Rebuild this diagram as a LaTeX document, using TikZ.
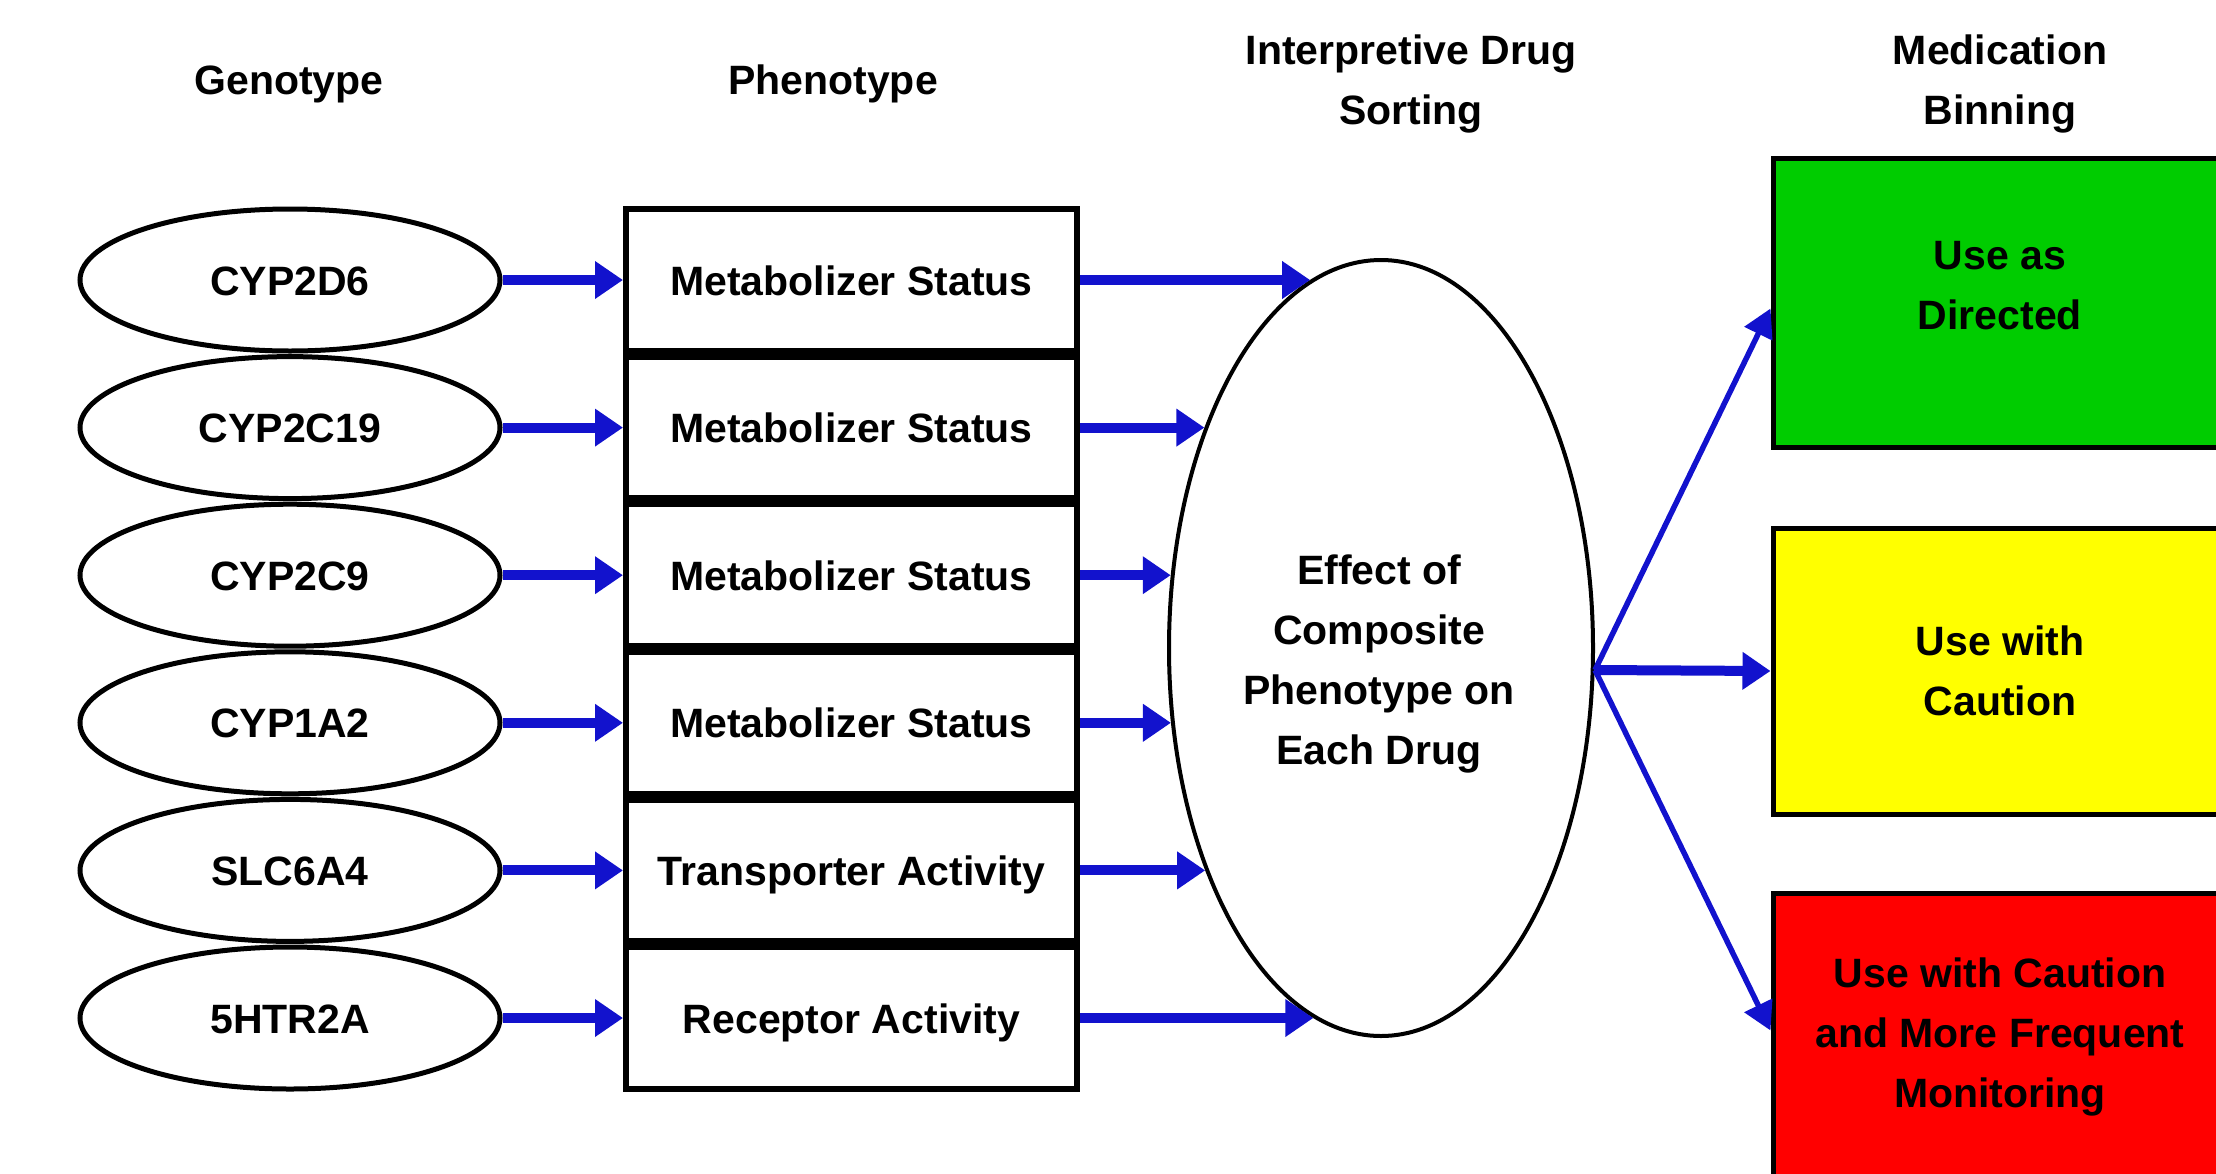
\documentclass[tikz,border=0pt]{standalone}
\usepackage{fontspec}
\setmainfont{Liberation Sans}
\usetikzlibrary{arrows.meta,shapes.geometric}
\definecolor{arrblue}{RGB}{18,18,205}
\definecolor{bingreen}{RGB}{0,204,0}
\definecolor{binyellow}{RGB}{255,255,0}
\definecolor{binred}{RGB}{255,0,0}
\begin{document}
\begin{tikzpicture}[x=1pt,y=-1pt,
  every node/.style={font=\fontsize{41}{60}\selectfont\bfseries},
  geno/.style={ellipse,draw,line width=5pt,minimum width=420pt,minimum height=142pt,inner sep=0pt,text height=30pt,text depth=0pt},
  pheno/.style={rectangle,draw,line width=6pt,minimum width=451pt,minimum height=141.6pt,inner sep=0pt,text height=30pt,text depth=0pt},
  hdr/.style={align=center,inner sep=0pt},
  arr/.style={draw=arrblue,line width=10pt,-{Triangle[length=28pt,width=36pt]}},
  darr/.style={draw=arrblue,line width=5.5pt,-{Triangle[length=28pt,width=30pt]}},
  bin/.style={rectangle,draw,line width=5pt,align=center,inner sep=0pt,minimum width=454pt}]
\useasboundingbox (0,0) rectangle (2216,1173);
% headers
\node[hdr] (h1) at (289,84) {Genotype};
\node[hdr] (h2) at (833,84) {Phenotype};
\node[hdr] (h3) at (1411,84) {Interpretive Drug\\Sorting};
\node[hdr] (h4) at (2000,84) {Medication\\Binning};
% central ellipse
\node[ellipse,draw,line width=4pt,minimum width=424pt,minimum height=776pt,inner sep=0pt] (c) at (1381,648) {};
\node[hdr] (ct) at (1379,664) {Effect of\\Composite\\Phenotype on\\Each Drug};
% bins
\node[bin,fill=bingreen,minimum height=289pt] (b1) at (2000,302.5) {};
\node[hdr] (b1t) at (2000,286) {Use as\\Directed};
\node[bin,fill=binyellow,minimum height=286pt] (b2) at (2000,671) {Use with\\Caution};
\node[bin,fill=binred,minimum height=287pt] (b3) at (2000,1036.5) {Use with Caution\\and More Frequent\\Monitoring};
% rows
\foreach \g/\p [count=\i] in {CYP2D6/Metabolizer Status,CYP2C19/Metabolizer Status,CYP2C9/Metabolizer Status,CYP1A2/Metabolizer Status,SLC6A4/Transporter Activity,5HTR2A/Receptor Activity}{
  \pgfmathsetmacro{\yy}{280+147.6*(\i-1)}
  \pgfmathsetmacro{\xx}{1381-214*sqrt(1-((\yy-648)/390)^2)}
  \node[geno] (g\i) at (290,\yy) {\g};
  \node[pheno] (p\i) at (851.5,\yy) {\p};
  \coordinate (e\i) at (\xx,\yy);
  \draw[arr] (g\i) -- (p\i);
  \draw[arr] (p\i.east) -- (e\i);
}
% outputs
\draw[darr] ([yshift=-22pt]c.east) -- ([yshift=-6pt]b1.west);
\draw[arr] ([yshift=-22pt]c.east) -- (b2.west);
\draw[darr] ([yshift=-22pt]c.east) -- ([yshift=6pt]b3.west);
\end{tikzpicture}
\end{document}
